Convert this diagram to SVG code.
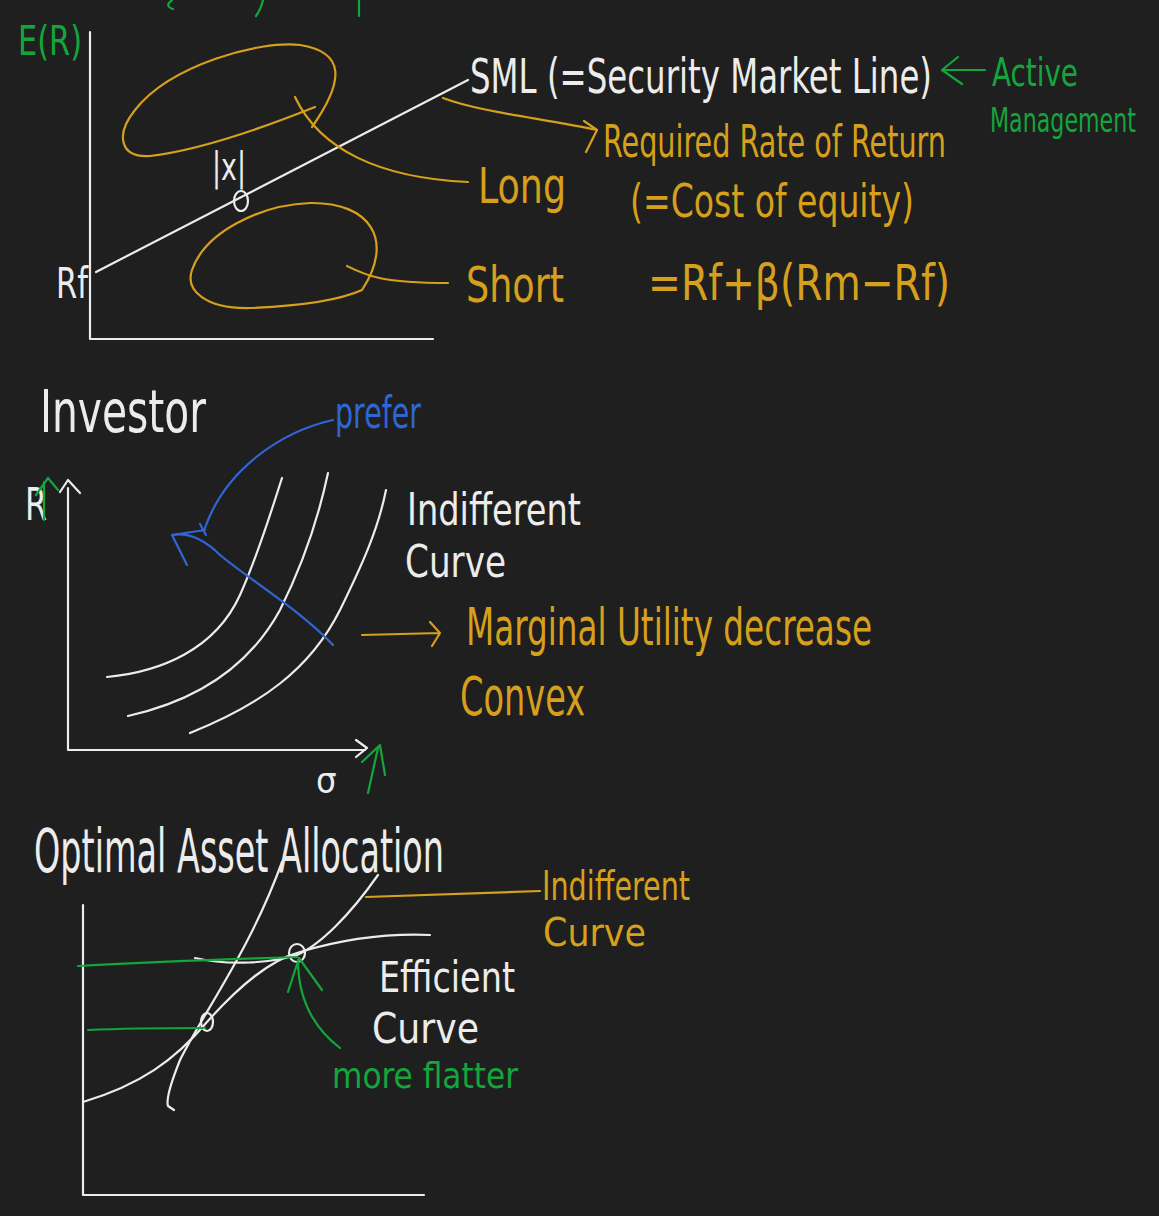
<svg xmlns="http://www.w3.org/2000/svg" width="1159" height="1216" viewBox="0 0 1159 1216">
<defs>
<style>
.w{stroke:#ececec;fill:none;stroke-width:2.2;stroke-linecap:round;stroke-linejoin:round}
.y{stroke:#d6a01c;fill:none;stroke-width:2.2;stroke-linecap:round;stroke-linejoin:round}
.g{stroke:#12a63c;fill:none;stroke-width:2.2;stroke-linecap:round;stroke-linejoin:round}
.b{stroke:#2f66d6;fill:none;stroke-width:2.2;stroke-linecap:round;stroke-linejoin:round}
text{font-family:"DejaVu Sans Condensed","Liberation Sans Narrow","DejaVu Sans",sans-serif;font-weight:normal}
.tw{fill:#ececec}
.ty{fill:#d6a01c}
.tg{fill:#12a63c}
.tb{fill:#2f66d6}
</style>
</defs>
<rect width="1159" height="1216" fill="#1f1f1f"/>

<g id="top-fragments">
<path class="g" d="M172,0 Q164,6 173,9"/>
<path class="g" d="M263,0 Q261,9 256,16"/>
<path class="g" d="M359,0 L359,16"/>
</g>

<!-- Section 1: SML -->
<g id="sml-axes">
<path class="w" d="M90,32 L90,339 L433,339"/>
<text class="tg" transform="translate(18,55) scale(1,1.19)" font-size="33.7" textLength="64" lengthAdjust="spacingAndGlyphs">E(R)</text>
<text class="tw" transform="translate(56,298) scale(1,1.23)" font-size="34" textLength="32" lengthAdjust="spacingAndGlyphs">Rf</text>
</g>
<g id="sml-line">
<path class="w" d="M96,272 L468,80"/>
<ellipse class="w" cx="241" cy="201" rx="7" ry="10"/>
<text class="tw" transform="translate(212,180) scale(1,1.33)" font-size="30" textLength="34" lengthAdjust="spacingAndGlyphs">|x|</text>
</g>
<g id="long-region">
<path class="y" d="M315,107 C270,125 200,150 150,156 C120,158 115,135 135,110 C170,65 260,40 300,45 C345,52 345,80 312,127"/>
</g>
<g id="short-region">
<path class="y" d="M362,290 C340,300 300,306 250,308 C205,309 185,290 192,270 C205,232 260,205 310,203 C370,202 395,240 362,290"/>
</g>
<g id="sml-label">
<text class="tw" transform="translate(470,93) scale(1,1.33)" font-size="36" textLength="462" lengthAdjust="spacingAndGlyphs">SML (=Security Market Line)</text>
</g>
<g id="active-management">
<text class="tg" transform="translate(992,86) scale(1,1.3)" font-size="30.7" textLength="86" lengthAdjust="spacingAndGlyphs">Active</text>
<text class="tg" transform="translate(990,132) scale(1,1.38)" font-size="24.6" textLength="146" lengthAdjust="spacingAndGlyphs">Management</text>
</g>
<g id="required-return">
<text class="ty" transform="translate(603,157) scale(1,1.4)" font-size="31.4" textLength="343" lengthAdjust="spacingAndGlyphs">Required Rate of Return</text>
<text class="ty" transform="translate(630,217) scale(1,1.25)" font-size="36.7" textLength="284" lengthAdjust="spacingAndGlyphs">(=Cost of equity)</text>
<text class="ty" transform="translate(648,300) scale(1,1.27)" font-size="39.5" textLength="302" lengthAdjust="spacingAndGlyphs">=Rf+β(Rm−Rf)</text>
</g>
<g id="long-label">
<text class="ty" transform="translate(478,203) scale(1,1.25)" font-size="40" textLength="88" lengthAdjust="spacingAndGlyphs">Long</text>
</g>
<g id="short-label">
<text class="ty" transform="translate(466,302) scale(1,1.23)" font-size="40.5" textLength="98" lengthAdjust="spacingAndGlyphs">Short</text>
</g>

<g id="connectors-1">
<path class="y" d="M295,97 C320,150 380,178 468,182"/>
<path class="y" d="M347,266 C365,275 380,283 448,283"/>
<path class="y" d="M443,98 C480,112 540,118 597,130"/>
<path class="y" d="M584,121 L597,130 L586,152"/>
<path class="g" d="M985,70 L942,70 M958,57 L942,70 L962,84"/>
</g>

<!-- Section 2: Investor -->
<g id="investor-title">
<text class="tw" transform="translate(40,432) scale(1,1.28)" font-size="45.3" textLength="166" lengthAdjust="spacingAndGlyphs">Investor</text>
<text class="tb" transform="translate(335,428) scale(1,1.4)" font-size="31.4" textLength="86" lengthAdjust="spacingAndGlyphs">prefer</text>
</g>
<g id="investor-axes">
<path class="w" d="M68,488 L68,750 L365,750"/>
<path class="w" d="M60,492 L68,480 L80,493"/>
<path class="w" d="M356,740 L367,748 L356,757"/>
<text class="tw" transform="translate(25,520) scale(1,1.26)" font-size="35" textLength="22" lengthAdjust="spacingAndGlyphs">R</text>
<path class="g" d="M44,520 L44,482 M36,495 L48,478 L58,490"/>
<text class="tw" x="316" y="793" font-size="36">σ</text>
<path class="g" d="M368,793 L378,748 M362,762 L380,745 L385,775"/>
</g>
<g id="indifference-curves">
<path class="w" d="M107,677 C160,672 215,650 240,595 C258,555 270,515 282,478"/>
<path class="w" d="M128,716 C200,700 250,665 280,610 C300,570 318,520 328,473"/>
<path class="w" d="M190,733 C260,705 310,670 340,610 C362,565 378,530 386,490"/>
</g>
<g id="indifferent-label">
<text class="tw" transform="translate(407,525) scale(1,1.19)" font-size="37.1" textLength="174" lengthAdjust="spacingAndGlyphs">Indifferent</text>
<text class="tw" transform="translate(405,577) scale(1,1.16)" font-size="38" textLength="101" lengthAdjust="spacingAndGlyphs">Curve</text>
</g>
<g id="marginal-label">
<text class="ty" transform="translate(466,645) scale(1,1.44)" font-size="36.2" textLength="406" lengthAdjust="spacingAndGlyphs">Marginal Utility decrease</text>
<text class="ty" transform="translate(460,715) scale(1,1.46)" font-size="37" textLength="125" lengthAdjust="spacingAndGlyphs">Convex</text>
</g>
<g id="connectors-2">
<path class="b" d="M333,420 C280,432 225,470 205,528"/>
<path class="b" d="M333,645 C300,610 250,580 220,555 C205,540 190,532 172,535"/>
<path class="b" d="M172,535 L187,565 M172,535 L205,530 M200,524 L206,535"/>
<path class="y" d="M362,635 L440,633 M430,622 L440,633 L432,646"/>
</g>

<!-- Section 3: Optimal Asset Allocation -->
<g id="optimal-title">
<text class="tw" transform="translate(34,872) scale(1,1.61)" font-size="37.2" textLength="410" lengthAdjust="spacingAndGlyphs">Optimal Asset Allocation</text>
</g>
<g id="optimal-axes">
<path class="w" d="M83,905 L83,1195 L424,1195"/>
</g>
<g id="efficient-curve">
<path class="w" d="M83,1102 C140,1085 175,1060 207,1022 C240,985 270,960 300,952 C340,940 380,933 430,935"/>
</g>
<g id="indifference-curves-2">
<path class="w" d="M282,862 C250,950 205,1010 180,1060 C170,1085 166,1100 168,1106 L174,1110"/>
<path class="w" d="M378,875 C350,915 320,945 297,955 C270,963 230,966 195,958"/>
<ellipse class="w" cx="297" cy="953" rx="8" ry="9"/>
<ellipse class="w" cx="207" cy="1022" rx="6" ry="9"/>
</g>
<g id="optimal-labels">
<text class="ty" transform="translate(542,900) scale(1,1.27)" font-size="31.6" textLength="148" lengthAdjust="spacingAndGlyphs">Indifferent</text>
<text class="ty" transform="translate(543,946) scale(1,1.03)" font-size="38.7" textLength="103" lengthAdjust="spacingAndGlyphs">Curve</text>
<text class="tw" transform="translate(379,992) scale(1,1.13)" font-size="37" textLength="136" lengthAdjust="spacingAndGlyphs">Efficient</text>
<text class="tw" transform="translate(372,1043) scale(1,1.08)" font-size="40.2" textLength="107" lengthAdjust="spacingAndGlyphs">Curve</text>
<text class="tg" transform="translate(332,1088) scale(1,1.05)" font-size="34.6" textLength="186" lengthAdjust="spacingAndGlyphs">more flatter</text>
</g>
<g id="connectors-3">
<path class="y" d="M366,897 L540,891"/>
<path class="g" d="M78,966 C150,962 230,959 297,957"/>
<path class="g" d="M88,1030 C130,1028 170,1028 205,1028"/>
<path class="g" d="M340,1048 C310,1025 298,995 298,960"/>
<path class="g" d="M288,992 L299,958 L322,990"/>
</g>
</svg>
